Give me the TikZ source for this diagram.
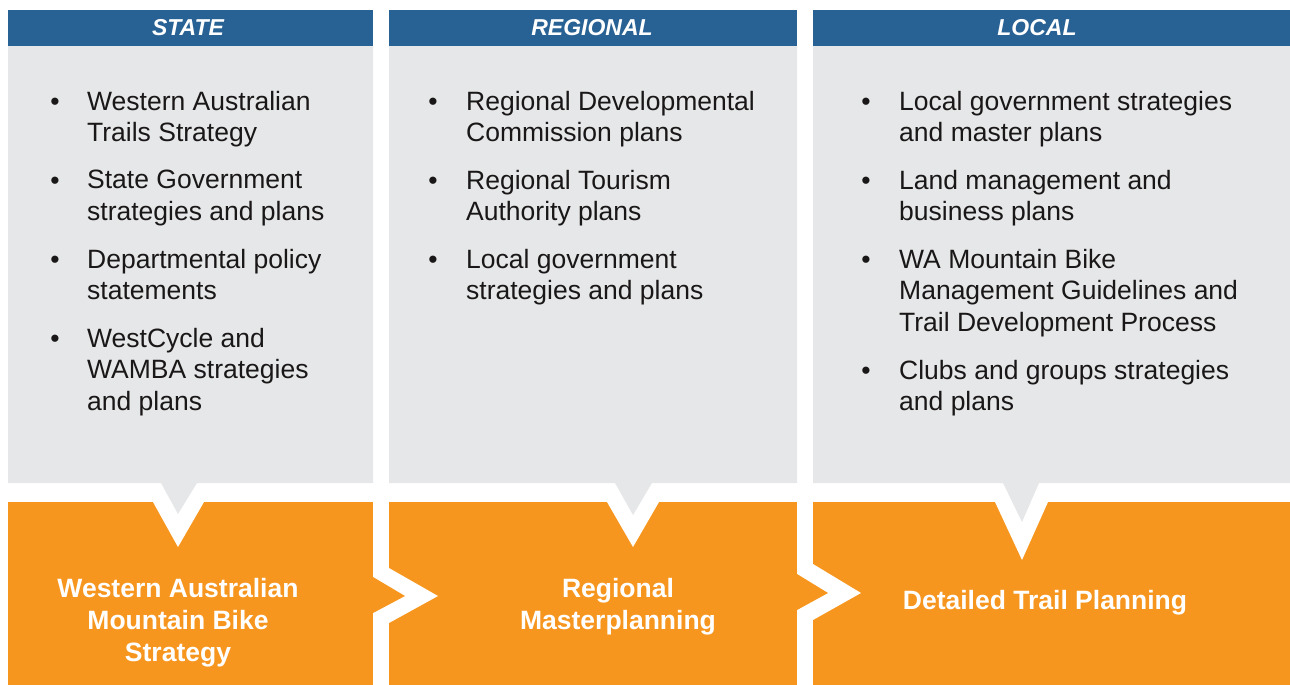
\documentclass[tikz,border=0pt]{standalone}
\usepackage{fontspec}
\setmainfont{Liberation Sans}
\setsansfont{Liberation Sans}

\definecolor{headblue}{HTML}{286193}
\definecolor{panelgrey}{HTML}{E6E7E8}
\definecolor{planorange}{HTML}{F7961F}
\definecolor{itemtext}{HTML}{1A1718}

\tikzset{
  head/.style={text=white,font=\fontsize{23}{27}\selectfont\bfseries\itshape},
  bul/.style={anchor=base,text=itemtext,font=\fontsize{26.5}{31.5}\selectfont},
  itemtxt/.style={anchor=north west,align=left,inner sep=0pt,text=itemtext,
    font=\fontsize{26.5}{31.5}\selectfont},
  plan/.style={align=center,text=white,font=\fontsize{26.5}{32}\selectfont\bfseries}
}

\begin{document}
\begin{tikzpicture}[x=1pt,y=-1pt]
\useasboundingbox (0,0) rectangle (1290,685);
% orange planning boxes
\fill[planorange] (8,502) rectangle (373,685);
\fill[planorange] (389,502) rectangle (797,685);
\fill[planorange] (813,502) rectangle (1290,685);
% chevrons between the boxes
\fill[white] (389,568) -- (438,596) -- (389,623) -- cycle;
\fill[planorange] (373,577) -- (405,596) -- (373,613) -- cycle;
\fill[white] (813,564) -- (861,593) -- (813,620) -- cycle;
\fill[planorange] (797,574) -- (828,593) -- (797,610) -- cycle;
% white notches
\fill[white] (153,502) -- (178,547) -- (204,502) -- cycle;
\fill[white] (607,502) -- (633,547) -- (659,502) -- cycle;
\fill[white] (995,502) -- (1022,560) -- (1048,502) -- cycle;
% grey panels
\fill[panelgrey] (8,46) -- (373,46) -- (373,483) -- (197,483) -- (178,514)
  -- (161,483) -- (8,483) -- cycle;
\fill[panelgrey] (389,46) -- (797,46) -- (797,483) -- (652,483) -- (633,515)
  -- (615,483) -- (389,483) -- cycle;
\fill[panelgrey] (813,46) -- (1290,46) -- (1290,483) -- (1039,483) -- (1022,522)
  -- (1003,483) -- (813,483) -- cycle;
% headers
\fill[headblue] (8,10) rectangle (373,46);
\fill[headblue] (389,10) rectangle (797,46);
\fill[headblue] (813,10) rectangle (1290,46);
\node[head] (hstate) at (188,28) {STATE};
\node[head] (hregion) at (592,28) {REGIONAL};
\node[head] (hlocal) at (1037,28) {LOCAL};

% state items
\foreach \y/\t [count=\i] in {110/{Western Australian\\Trails Strategy},
    189/{State Government\\strategies and plans},
    268/{Departmental policy\\statements},
    347/{WestCycle and\\WAMBA strategies\\and plans}}{
  \node[bul] (sb\i) at (55,\y) {•};
  \node[itemtxt] (si\i) at (87,\y-19.2) {\t};
}
% regional items
\foreach \y/\t [count=\i] in {110/{Regional Developmental\\Commission plans},
    189/{Regional Tourism\\Authority plans},
    268/{Local government\\strategies and plans}}{
  \node[bul] (rb\i) at (433,\y) {•};
  \node[itemtxt] (ri\i) at (466,\y-19.2) {\t};
}
% local items
\foreach \y/\t [count=\i] in {110/{Local government strategies\\and master plans},
    189/{Land management and\\business plans},
    268/{WA Mountain Bike\\Management Guidelines and\\Trail Development Process},
    379/{Clubs and groups strategies\\and plans}}{
  \node[bul] (lb\i) at (866,\y) {•};
  \node[itemtxt] (li\i) at (899,\y-19.2) {\t};
}

% planning stages
\node[plan] (pstate) at (178,623) {Western Australian\\Mountain Bike\\Strategy};
\node[plan] (pregion) at (618,607) {Regional\\Masterplanning};
\node[plan] (plocal) at (1045,603) {Detailed Trail Planning};
\end{tikzpicture}
\end{document}
